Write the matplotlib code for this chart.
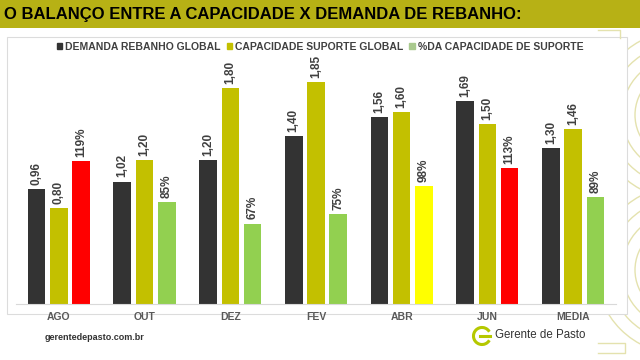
import matplotlib
matplotlib.use('Agg')
import matplotlib.pyplot as plt
from matplotlib.patches import Rectangle, Arc, Patch
import numpy as np

plt.rcParams['font.family'] = ['Liberation Sans', 'DejaVu Sans']

meses = ['AGO', 'OUT', 'DEZ', 'FEV', 'ABR', 'JUN', 'MEDIA']
demanda = [0.96, 1.02, 1.20, 1.40, 1.56, 1.69, 1.30]
capacidade = [0.80, 1.20, 1.80, 1.85, 1.60, 1.50, 1.46]
pct = [119, 85, 67, 75, 98, 113, 89]
pct_cores = ['#ff0000', '#92d050', '#92d050', '#92d050', '#ffff00', '#ff0000', '#92d050']

W, H = 640, 360
fig = plt.figure(figsize=(6.4, 3.6), dpi=100)
fig.patch.set_facecolor('white')

def fx(px):
    return px / W

def fy(py):
    return 1 - py / H

# fundo: faixa do titulo, arcos decorativos, caixa do grafico
deco = fig.add_axes([0, 0, 1, 1], zorder=-1)
deco.set_xlim(0, W)
deco.set_ylim(H, 0)
deco.axis('off')
deco.add_patch(Rectangle((0, 0), W, 28, facecolor='#b7b115', edgecolor='none'))
for cy in (115, 270):
    for r in (45, 58, 71, 84):
        deco.add_patch(Arc((680, cy), 2 * r, 2 * r, color='#e4e2ae', lw=1))
deco.plot([598, 620, 620], [30, 30, 38], color='#e4e2ae', lw=1)
deco.plot([598, 625, 625, 598], [343, 343, 353, 353], color='#e4e2ae', lw=1)
deco.add_patch(Rectangle((7, 37), 620, 277, facecolor='white', edgecolor='#dcdcdc', lw=0.8))
deco.add_patch(Arc((482, 336), 17, 17, theta1=30, theta2=330, color='#b5c800', lw=2.2))
deco.plot([480, 490], [336, 336], color='#b5c800', lw=2.2)

fig.text(fx(4), fy(14), 'O BALANÇO ENTRE A CAPACIDADE X DEMANDA DE REBANHO:',
         fontsize=12, fontweight='bold', color='black', va='center', ha='left')

ax = fig.add_axes([fx(16), fy(304), (616 - 16) / W, 252 / H])
ax.set_facecolor('none')
x = np.arange(len(meses))
w = 0.205
off = 0.26
b1 = ax.bar(x - off, demanda, w, color='#333333')
b2 = ax.bar(x, capacidade, w, color='#c3c000')
b3 = ax.bar(x + off, [p / 100 for p in pct], w, color=pct_cores)

for bars, labels in ((b1, [f'{v:.2f}'.replace('.', ',') for v in demanda]),
                     (b2, [f'{v:.2f}'.replace('.', ',') for v in capacidade]),
                     (b3, [f'{p}%' for p in pct])):
    for bar, lab in zip(bars, labels):
        ax.annotate(lab, (bar.get_x() + bar.get_width() / 2, bar.get_height()),
                    xytext=(0, 3), textcoords='offset points', rotation=90,
                    ha='center', va='bottom', fontsize=8.5, fontweight='bold',
                    color='#404040')

ax.set_xlim(-0.5, len(meses) - 0.5)
ax.set_ylim(0, 2.1)
ax.set_yticks([])
ax.set_xticks(x)
ax.set_xticklabels(meses, fontsize=7.5, fontweight='bold', color='#595959')
ax.tick_params(axis='x', length=0, pad=6)
for s in ('top', 'right', 'left'):
    ax.spines[s].set_visible(False)
ax.spines['bottom'].set_color('#d9d9d9')

handles = [Patch(color='#333333'), Patch(color='#c3c000'), Patch(color='#a9c98e')]
leg = fig.legend(handles, ['DEMANDA REBANHO GLOBAL', 'CAPACIDADE SUPORTE GLOBAL',
                           '%DA CAPACIDADE DE SUPORTE'],
                 loc='center', bbox_to_anchor=(fx(320), fy(47)), ncol=3, frameon=False,
                 handlelength=0.5, handleheight=0.5, handletextpad=0.3,
                 columnspacing=0.6, prop={'weight': 'bold', 'size': 7.5})
for t in leg.get_texts():
    t.set_color('#404040')

# rodape
fig.text(fx(45), fy(338), 'gerentedepasto.com.br', fontsize=6.5, fontweight='bold',
         color='#333333', va='center', ha='left')
fig.text(fx(495), fy(335), 'Gerente de Pasto', fontsize=8.3, color='#333333',
         va='center', ha='left')

fig.savefig('out.png', dpi=100)
